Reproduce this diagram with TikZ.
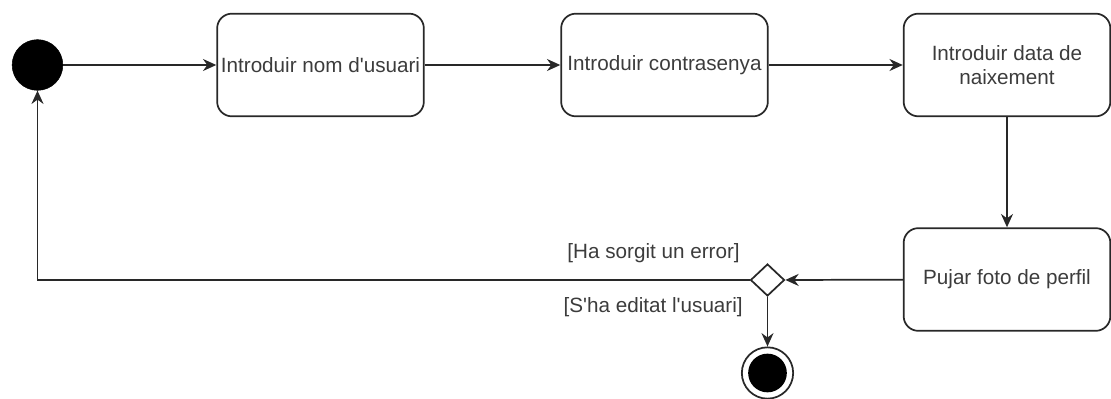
\documentclass[tikz,border=0pt]{standalone}
\usepackage{fontspec}
\newfontfamily\diagfont{Liberation Sans}
\usetikzlibrary{shapes.geometric,arrows.meta}

\definecolor{linegray}{RGB}{40,40,40}
\definecolor{textgray}{RGB}{60,60,60}

\tikzset{
    activity/.style={draw=linegray, line width=1.3pt, rounded corners=11pt,
        minimum width=155pt, minimum height=77pt, inner sep=2pt,
        align=center, text=textgray, font=\diagfont\fontsize{15.5}{18}\selectfont},
    startdot/.style={circle, draw=black, fill=black, minimum size=38pt, inner sep=0pt},
    endring/.style={circle, draw=linegray, line width=1.3pt, fill=white, minimum size=38.5pt, inner sep=0pt},
    endcore/.style={circle, fill=black, minimum size=29pt, inner sep=0pt},
    choice/.style={diamond, draw=linegray, line width=1.3pt, fill=white,
        minimum width=25.5pt, minimum height=24pt, inner sep=0pt},
    guard/.style={text=textgray, inner sep=0pt, font=\diagfont\fontsize{15.5}{18}\selectfont},
    flow/.style={draw=linegray, line width=1.3pt, -{Stealth[length=10pt, width=9pt]}}
}

\begin{document}
\begin{tikzpicture}[x=0.75pt, y=-0.75pt]
    \useasboundingbox (0,0) rectangle (1111,399);

    % --- states ---
    \node[startdot] (inici) at (37.5,65) {};
    \node[activity] (nom) at (320.5,65) {Introduir nom d'usuari};
    \node[activity] (contra) at (664.5,65) {Introduir contrasenya};
    \node[activity] (data) at (1007,65) {Introduir data de\\naixement};
    \node[activity] (foto) at (1007,279.5) {Pujar foto de perfil};
    \node[choice] (dec) at (767.5,280) {};
    \node[endring] (fin) at (767.5,373) {};
    \node[endcore] at (fin) {};

    % --- guards ---
    \node[guard, anchor=east] (error) at (740,253) {[Ha sorgit un error]};
    \node[guard, anchor=east] (editat) at (743,307) {[S'ha editat l'usuari]};

    % --- transitions ---
    \draw[flow] (inici) -- (nom);
    \draw[flow] (nom) -- (contra);
    \draw[flow] (contra) -- (data);
    \draw[flow] (data) -- (foto);
    \draw[flow] (foto) -- (dec);
    \draw[flow] (dec) -- (fin);
    \draw[flow] (dec.west) -| (inici.south);
\end{tikzpicture}
\end{document}
